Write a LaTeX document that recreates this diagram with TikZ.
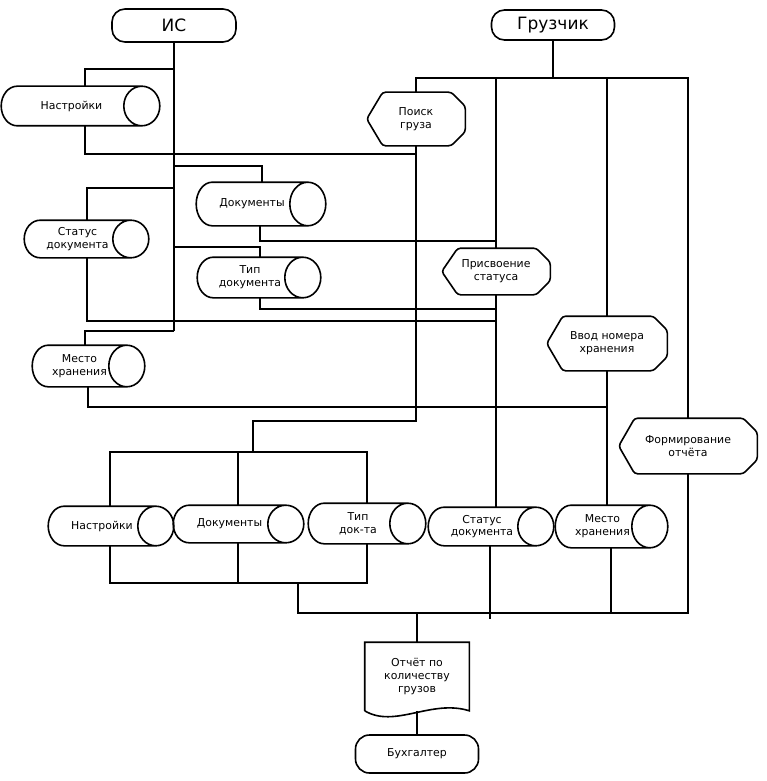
\documentclass[tikz,border=0pt]{standalone}
\usepackage{fontspec}
\setmainfont{DejaVu Sans}
\usetikzlibrary{calc}

% outline of a data store: round left end, full ellipse at the right end
\newcommand{\storeshape}[1]{%
  \draw let \p1=(#1.north west), \p2=(#1.south east) in
    (\x2,\y1) -- (\x1+16pt,\y1)
    arc[start angle=90, end angle=270, x radius=16pt, y radius={(\y1-\y2)/2}]
    -- (\x2,\y2)
    (\x2,{(\y1+\y2)/2}) ellipse[x radius=18pt, y radius={(\y1-\y2)/2}];}
% outline of a function: pointed left side, cut corners on the right
\newcommand{\procshape}[1]{%
  \draw[rounded corners=3pt] (#1.west) -- ($(#1.north west)+(16,0)$)
    -- ($(#1.north east)+(-14,0)$) -- ($(#1.north east)+(0,14)$)
    -- ($(#1.south east)+(0,-14)$) -- ($(#1.south east)+(-14,0)$)
    -- ($(#1.south west)+(16,0)$) -- cycle;}
% outline of a paper document with a wavy foot
\newcommand{\docshape}[1]{%
  \draw (#1.south west) -- (#1.north west) -- (#1.north east) -- (#1.south east)
    .. controls ($(#1.south east)+(-38,-12)$) and ($(#1.south west)+(30,18)$) .. (#1.south west);}

\tikzset{
  lbl/.style={font=\fontsize{10.9}{12.8}\selectfont, align=center, inner sep=0pt},
  term/.style={draw, rounded corners=13pt, inner sep=0pt},
  store/.style={lbl},
  proc/.style={lbl},
  paper/.style={lbl},
}

\begin{document}
\begin{tikzpicture}[x=1pt,y=-1pt,line width=1.6pt]
\useasboundingbox (0,0) rectangle (767,781);

%Shape: Terminators
\node[term, font=\fontsize{17}{20}\selectfont, minimum width=124pt, minimum height=33pt] (is) at (174,25.5) {ИС};
\node[term, font=\fontsize{17}{20}\selectfont, minimum width=123pt, minimum height=30pt] (gruz) at (553,25) {Грузчик};
\node[term, lbl, rounded corners=14pt, minimum width=123pt, minimum height=38pt] (acct) at (417,754) {Бухгалтер};

%Shape: Data stores (IS side)
\node[store, minimum width=139pt, minimum height=38pt] (nast1) at (71.5,106) {Настройки};
\node[store, minimum width=110pt, minimum height=42pt] (docs1) at (252,204) {Документы};
\node[store, minimum width=105pt, minimum height=36pt] (stat1) at (77.5,239) {Статус\\документа};
\node[store, minimum width=104pt, minimum height=39pt] (type1) at (250,277.5) {Тип\\документа};
\node[store, minimum width=93pt, minimum height=40pt] (place1) at (79.5,366) {Место\\хранения};
%Shape: Data stores (bottom row)
\node[store, minimum width=106pt, minimum height=38pt] (nast2) at (102,526) {Настройки};
\node[store, minimum width=111pt, minimum height=36pt] (docs2) at (229.5,524) {Документы};
\node[store, minimum width=98pt, minimum height=39pt] (type2) at (358,523.5) {Тип\\док-та};
\node[store, minimum width=106pt, minimum height=37pt] (stat2) at (482,526.5) {Статус\\документа};
\node[store, minimum width=93pt, minimum height=41pt] (place2) at (602.5,526.5) {Место\\хранения};
\foreach \s in {nast1,docs1,stat1,type1,place1,nast2,docs2,type2,stat2,place2}
  {\storeshape{\s}}

%Shape: Functions
\node[proc, minimum width=97pt, minimum height=52pt] (search) at (416,119) {Поиск\\груза};
\node[proc, minimum width=107pt, minimum height=45pt] (assign) at (496,271.5) {Присвоение\\статуса};
\node[proc, minimum width=119pt, minimum height=53pt] (enter) at (607,343.5) {Ввод номера\\хранения};
\node[proc, minimum width=137pt, minimum height=54pt] (report) at (688,446) {Формирование\\отчёта};
\foreach \s in {search,assign,enter,report}
  {\procshape{\s}}

%Shape: Document
\node[paper, minimum width=103pt, minimum height=67pt] (docout) at (417,676.5) {Отчёт по\\количеству\\грузов};
\docshape{docout}

% junctions
\coordinate (is1) at (174,69);
\coordinate (is2) at (174,166);
\coordinate (is3) at (174,188);
\coordinate (is4) at (174,247);
\coordinate (is5) at (174,331);
\coordinate (gr0) at (553,78);
\coordinate (r1) at (416,154);
\coordinate (r2) at (496,241);
\coordinate (r3) at (496,309);
\coordinate (r4) at (496,321);
\coordinate (r5) at (607,407);
\coordinate (s1) at (253,421);
\coordinate (b1) at (253,452);
\coordinate (b2) at (298,583);
\coordinate (b3) at (417,613);

%Straight Lines: IS column
\draw (is.south) -- (is5);
\draw (is1) -| ([xshift=13.5pt]nast1.north);
\draw ([xshift=13.5pt]nast1.south) |- (r1);
\draw (is2) -| ([xshift=10pt]docs1.north);
\draw ([xshift=8pt]docs1.south) |- (r2);
\draw (is3) -| ([xshift=9.5pt]stat1.north);
\draw ([xshift=9.5pt]stat1.south) |- (r4);
\draw (is4) -| ([xshift=10pt]type1.north);
\draw ([xshift=10pt]type1.south) |- (r3);
\draw (is5) -| ([xshift=5.5pt]place1.north);
\draw ([xshift=8.5pt]place1.south) |- (r5);

%Straight Lines: loader column
\draw (gruz.south) -- (gr0);
\draw (search.north) |- (report.north |- gr0) -- (report.north);
\draw (assign.north) -- (assign.north |- gr0);
\draw (enter.north) -- (enter.north |- gr0);
\draw (assign.south) -- (assign.south |- stat2.north);
\draw (enter.south) -- (enter.south |- place2.north);

%Straight Lines: lower stores
\draw (search.south) |- (s1) -- (b1);
\draw ([xshift=8pt]nast2.north) |- ([xshift=9pt]type2.north |- b1) -- ([xshift=9pt]type2.north);
\draw ([xshift=8.5pt]docs2.north) -- ([xshift=8.5pt]docs2.north |- b1);
\draw ([xshift=8pt]nast2.south) |- ([xshift=9pt]type2.south |- b2) -- ([xshift=9pt]type2.south);
\draw ([xshift=8.5pt]docs2.south) -- ([xshift=8.5pt]docs2.south |- b2);
\draw ([xshift=8pt]stat2.south) -- ++(0,73);
\draw ([xshift=8.5pt]place2.south) -- ([xshift=8.5pt]place2.south |- b3);
\draw (report.south) |- (b2 |- b3) -- (b2);

%Straight Lines: report output
\draw (b3) -- (docout.north);
\draw (docout.south) -- (acct.north);

\end{tikzpicture}
\end{document}
